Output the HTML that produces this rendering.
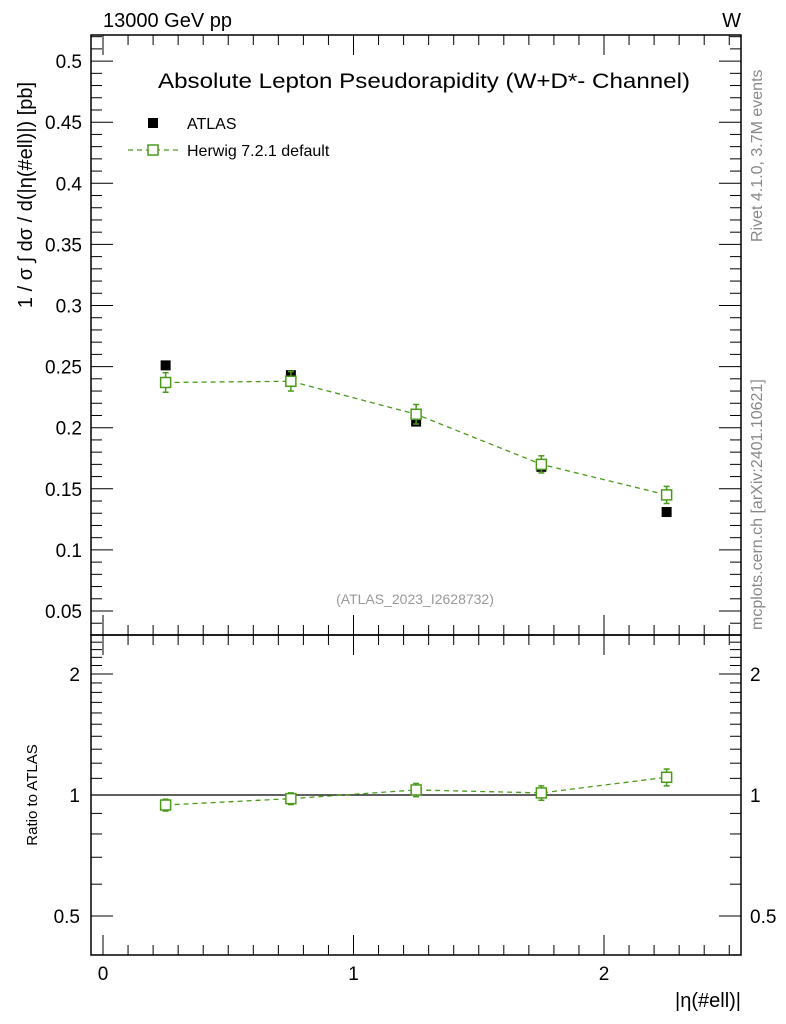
<!DOCTYPE html>
<html><head><meta charset="utf-8"><style>
body{margin:0;background:#fff}
svg{display:block;font-family:"Liberation Sans",sans-serif}
</style></head><body>
<svg id="c" width="786" height="1024" xmlns="http://www.w3.org/2000/svg"></svg>
<script>
const xCenters=[0.25,0.75,1.25,1.75,2.25];
const atlasVals=[0.251,0.243,0.205,0.168,0.131];
const atlasErr=[0.002,0.002,0.002,0.002,0.002];
const herwigVals=[0.237,0.238,0.211,0.170,0.145];
const herwigErr=[0.008,0.008,0.008,0.007,0.007];
const yTicks=[0.05,0.1,0.15,0.2,0.25,0.3,0.35,0.4,0.45,0.5];
const yTickLabels=["0.05","0.1","0.15","0.2","0.25","0.3","0.35","0.4","0.45","0.5"];
const xTicks=[0,1,2];
const rTicks=[0.5,1,2];

const svg=document.getElementById('c');
const NS='http://www.w3.org/2000/svg';
function el(t,a,p){const e=document.createElementNS(NS,t);for(const k in a)e.setAttribute(k,a[k]);(p||svg).appendChild(e);return e;}
const L=91,R=741,T=35,M=635,B=955;
const X=v=>103+(v)*250.5;
const Y=v=>611-(v-0.05)*1222;
const RY=v=>795-121*Math.log2(v);
const green='#4a9a1a';

let f=el('rect',{x:L,y:T,width:R-L,height:M-T,fill:'none',stroke:'#000','stroke-width':1.5});

f=el('rect',{x:L,y:M,width:R-L,height:B-M,fill:'none',stroke:'#000','stroke-width':1.5});


for(let v=0;v<=2.5001;v+=0.1){
  const x=X(v);const maj=Math.abs(v-Math.round(v))<1e-6;const len=maj?20:10;
  for(const [y0,dir] of [[M,-1],[T,1],[B,-1],[M,1]]){
    el('line',{x1:x,x2:x,y1:y0,y2:y0+dir*len,stroke:'#000','stroke-width':1});
  }
}
xTicks.forEach(v=>{const t=el('text',{x:X(v),y:980,'font-size':19,'text-anchor':'middle'});t.textContent=v;
});

for(let v=0.04;v<=0.5201;v+=0.01){
  const y=Y(v);if(y<T||y>M)continue;const maj=Math.round(v*100)%5===0;const len=maj?22:11;
  el('line',{x1:L,x2:L+len,y1:y,y2:y,stroke:'#000'});
  el('line',{x1:R,x2:R-len,y1:y,y2:y,stroke:'#000'});
}
yTicks.forEach((v,i)=>{const t=el('text',{x:82,y:Y(v)+7,'font-size':19,'text-anchor':'end'});t.textContent=yTickLabels[i];
});

for(let v=0.4;v<=2.5001;v+=0.1){
  const y=RY(v);if(y<M||y>B)continue;const maj=rTicks.some(r=>Math.abs(r-v)<1e-6);const len=maj?22:11;
  el('line',{x1:L,x2:L+len,y1:y,y2:y,stroke:'#000'});
  el('line',{x1:R,x2:R-len,y1:y,y2:y,stroke:'#000'});
}
rTicks.forEach(v=>{let t=el('text',{x:80,y:RY(v)+7,'font-size':19,'text-anchor':'end'});t.textContent=v;

t=el('text',{x:750,y:RY(v)+7,'font-size':19});t.textContent=v;
});
el('line',{x1:L,x2:R,y1:RY(1),y2:RY(1),stroke:'#000','stroke-width':1.2});

let pts=xCenters.map((x,i)=>X(x)+','+Y(herwigVals[i])).join(' ');
let pl=el('polyline',{points:pts,fill:'none',stroke:green,'stroke-width':1.3,'stroke-dasharray':'5,4'});

xCenters.forEach((x,i)=>{
  el('line',{x1:X(x),x2:X(x),y1:Y(atlasVals[i]+atlasErr[i]),y2:Y(atlasVals[i]-atlasErr[i]),stroke:'#000'});
  const r=el('rect',{x:X(x)-5,y:Y(atlasVals[i])-5,width:10,height:10,fill:'#000'});
  
});
xCenters.forEach((x,i)=>{
  const cx=X(x);
  const a=Y(herwigVals[i]+herwigErr[i]),b=Y(herwigVals[i]-herwigErr[i]);
  el('line',{x1:cx,x2:cx,y1:a,y2:b,stroke:green,'stroke-width':1.5});
  el('line',{x1:cx-3,x2:cx+3,y1:a,y2:a,stroke:green,'stroke-width':1.5});
  el('line',{x1:cx-3,x2:cx+3,y1:b,y2:b,stroke:green,'stroke-width':1.5});
  const r=el('rect',{x:cx-5,y:Y(herwigVals[i])-5,width:10,height:10,fill:'#fff',stroke:green,'stroke-width':1.5});
  
});
const ratios=herwigVals.map((v,i)=>v/atlasVals[i]);
const rErr=herwigErr.map((e,i)=>e/atlasVals[i]);
pts=xCenters.map((x,i)=>X(x)+','+RY(ratios[i])).join(' ');
pl=el('polyline',{points:pts,fill:'none',stroke:green,'stroke-width':1.3,'stroke-dasharray':'5,4'});

xCenters.forEach((x,i)=>{
  const cx=X(x),a=RY(ratios[i]+rErr[i]),b=RY(ratios[i]-rErr[i]);
  el('line',{x1:cx,x2:cx,y1:a,y2:b,stroke:green,'stroke-width':1.5});
  el('line',{x1:cx-3,x2:cx+3,y1:a,y2:a,stroke:green,'stroke-width':1.5});
  el('line',{x1:cx-3,x2:cx+3,y1:b,y2:b,stroke:green,'stroke-width':1.5});
  const r=el('rect',{x:cx-5,y:RY(ratios[i])-5,width:10,height:10,fill:'#fff',stroke:green,'stroke-width':1.5});
  
});

function txt(s,a,name){const t=el('text',a);t.textContent=s;return t;}
txt('13000 GeV pp',{x:103,y:27,'font-size':20},'energy-label');
txt('W',{x:741,y:27,'font-size':20,'text-anchor':'end'},'process-label');
txt('Absolute Lepton Pseudorapidity (W+D*- Channel)',{x:158,y:88,'font-size':21,textLength:532,lengthAdjust:'spacingAndGlyphs'},'chart-title');
el('rect',{x:148,y:118,width:10,height:10,fill:'#000'});
txt('ATLAS',{x:187,y:129,'font-size':16},'legend-atlas');
el('line',{x1:128,x2:178,y1:150,y2:150,stroke:green,'stroke-width':1.3,'stroke-dasharray':'5,4'});
el('rect',{x:148,y:145,width:10,height:10,fill:'#fff',stroke:green,'stroke-width':1.5});
txt('Herwig 7.2.1 default',{x:187,y:156,'font-size':16},'legend-herwig');
txt('(ATLAS_2023_I2628732)',{x:415,y:604,'font-size':14,fill:'#999','text-anchor':'middle'},'analysis-id');
txt('Rivet 4.1.0,  3.7M events',{x:0,y:0,'font-size':16,fill:'#888',transform:'translate(762,242) rotate(-90)'},'rivet-label');
txt('mcplots.cern.ch [arXiv:2401.10621]',{x:0,y:0,'font-size':16,fill:'#888',transform:'translate(762,630) rotate(-90)'},'mcplots-label');
txt('1 / σ  ∫  dσ / d(|η(#ell)|) [pb]',{x:0,y:0,'font-size':20,transform:'translate(32,195) rotate(-90)','text-anchor':'middle'},'y-axis-title');
txt('Ratio to ATLAS',{x:0,y:0,'font-size':15,transform:'translate(37,795) rotate(-90)','text-anchor':'middle'},'ratio-axis-title');
txt('|η(#ell)|',{x:741,y:1007,'font-size':20,'text-anchor':'end'},'x-axis-title');
</script>
</body></html>
